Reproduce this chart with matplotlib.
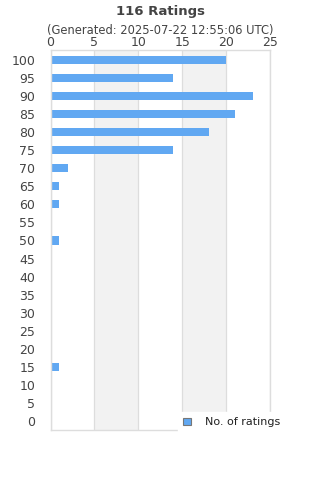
import matplotlib
matplotlib.use('Agg')
import matplotlib.pyplot as plt
from matplotlib.patches import Patch

# ratings buckets (top to bottom) and counts
categories = [100, 95, 90, 85, 80, 75, 70, 65, 60, 55, 50, 45, 40, 35, 30, 25, 20, 15, 10, 5, 0]
counts = [20, 14, 23, 21, 18, 14, 2, 1, 1, 0, 1, 0, 0, 0, 0, 0, 0, 1, 0, 0, 0]
x_ticks = [0, 5, 10, 15, 20, 25]

BAR = '#61a8f2'
TXT = '#444444'
GRID = '#dddddd'

fig = plt.figure(figsize=(3.2, 4.8), dpi=100)
ax = fig.add_axes([0.158, 0.104, 0.686, 0.792])

# alternating bands
for i in range(len(x_ticks) - 1):
    if i % 2 == 1:
        ax.axvspan(x_ticks[i], x_ticks[i + 1], color='#f2f2f2', zorder=0, lw=0)

ypos = list(range(len(categories)))
ax.barh(ypos, counts, height=0.45, color=BAR, zorder=2)

ax.set_xlim(0, 25)
ax.set_ylim(len(categories) - 0.5, -0.55)
ax.set_xticks(x_ticks)
ax.xaxis.tick_top()
ax.set_yticks(ypos)
ax.set_yticklabels([str(c) for c in categories])
ax.tick_params(axis='both', length=0, labelsize=9, colors=TXT, pad=0.5)
ax.tick_params(axis='y', pad=11)
ax.grid(axis='x', color=GRID, lw=0.9, zorder=1)
for s in ax.spines.values():
    s.set_color(GRID)
    s.set_linewidth(1.0)

fig.text(0.5, 0.977, '116 Ratings', ha='center', va='center', fontsize=9.5,
         fontweight='bold', color=TXT)
fig.text(0.5, 0.937, '(Generated: 2025-07-22 12:55:06 UTC)', ha='center', va='center',
         fontsize=8.3, color=TXT)

leg = ax.legend(handles=[Patch(facecolor=BAR, edgecolor='#777777', lw=0.8)],
                labels=['No. of ratings'], loc='center', bbox_to_anchor=(0.825, 0.02),
                frameon=True, fontsize=8, handlelength=0.7, handleheight=0.7,
                handletextpad=1.2, borderpad=0.5)
leg.get_frame().set_edgecolor('white')
leg.get_frame().set_facecolor('white')
leg.get_frame().set_alpha(1.0)
leg.set_zorder(5)
for t in leg.get_texts():
    t.set_color('#222222')

fig.savefig('out.png', dpi=100, facecolor='white')
